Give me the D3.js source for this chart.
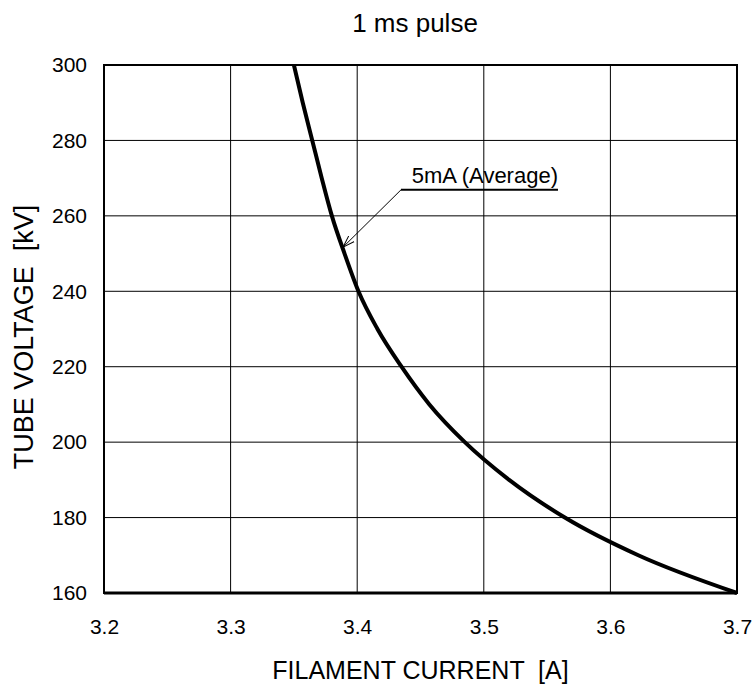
<!DOCTYPE html>
<html>
<head>
<meta charset="utf-8">
<script src="https://cdn.jsdelivr.net/npm/d3@7"></script>
<style>
  body { margin: 0; background: #fff; }
  text { font-family: Arial, "Liberation Sans", sans-serif; fill: #000; }
  .grid line { stroke: #000; stroke-width: 1; }
</style>
</head>
<body>
<svg id="graf"></svg>
<script>
// datos de la curva
const corriente = [3.350, 3.357, 3.3645, 3.372, 3.380, 3.390, 3.401, 3.416, 3.435, 3.457, 3.485, 3.520, 3.564, 3.622, 3.700];
const voltaje   = [300, 290, 280, 270, 260, 250, 240, 230, 220, 210, 200, 190, 180, 170, 160];

const xTicks = [3.2, 3.3, 3.4, 3.5, 3.6, 3.7];
const yTicks = [160, 180, 200, 220, 240, 260, 280, 300];

// anotacion: texto subrayado y flecha hacia la curva
const notaTexto = "5mA (Average)";
const notaInicio = [3.4346, 266.9];   // inicio del subrayado / flecha
const notaFin = [3.5586, 266.9];      // fin del subrayado
const notaPunta = [3.3888, 251.7];    // punta de la flecha

const titulo = "1 ms pulse";
const tituloX = "FILAMENT CURRENT  [A]";
const tituloY = "TUBE VOLTAGE  [kV]";

const ancho = 755, alto = 689;
const margins = { left: 104, top: 65, right: 18, bottom: 96 };
const w = ancho - margins.left - margins.right;
const h = alto - margins.top - margins.bottom;

const svg = d3.select("#graf").attr("width", ancho).attr("height", alto);

const x = d3.scaleLinear().domain([3.2, 3.7]).range([0, w]);
const y = d3.scaleLinear().domain([160, 300]).range([h, 0]);

const g = svg.append("g").attr("transform", `translate(${margins.left}, ${margins.top})`);

// rejilla
const grid = g.append("g").attr("class", "grid");
grid.selectAll(".vx").data(xTicks.slice(1, -1)).enter().append("line")
  .attr("x1", d => x(d)).attr("x2", d => x(d)).attr("y1", 0).attr("y2", h);
grid.selectAll(".hy").data(yTicks.slice(1, -1)).enter().append("line")
  .attr("x1", 0).attr("x2", w).attr("y1", d => y(d)).attr("y2", d => y(d));

// ejes (solo etiquetas)
const xAxis = d3.axisBottom(x).tickValues(xTicks).tickFormat(d3.format(".1f")).tickSize(0).tickPadding(26);
const yAxis = d3.axisLeft(y).tickValues(yTicks).tickSize(0).tickPadding(17);
const gx = g.append("g").attr("transform", `translate(0, ${h})`).call(xAxis);
const gy = g.append("g").call(yAxis);
[gx, gy].forEach(a => {
  a.select(".domain").remove();
  a.selectAll("text").style("font-size", "21px").style("font-family", "Arial, 'Liberation Sans', sans-serif");
});

// marco
g.append("rect").attr("x", 0).attr("y", 0).attr("width", w).attr("height", h)
  .attr("fill", "none").attr("stroke", "#000").attr("stroke-width", 2);
g.append("line").attr("x1", 0).attr("x2", w).attr("y1", y(160)).attr("y2", y(160))
  .attr("stroke", "#000").attr("stroke-width", 3);

// curva
const puntos = corriente.map((c, i) => [c, voltaje[i]]);
const linea = d3.line().x(d => x(d[0])).y(d => y(d[1])).curve(d3.curveMonotoneX);
g.append("path").datum(puntos).attr("d", linea)
  .attr("fill", "none").attr("stroke", "#000").attr("stroke-width", 4).attr("stroke-linejoin", "round");

// flecha abierta
svg.append("defs").append("marker")
  .attr("id", "punta").attr("viewBox", "0 0 12 10").attr("refX", 12).attr("refY", 5)
  .attr("markerWidth", 12).attr("markerHeight", 10).attr("markerUnits", "userSpaceOnUse")
  .attr("orient", "auto")
  .append("path").attr("d", "M0,1 L12,5 L0,9").attr("fill", "none").attr("stroke", "#000").attr("stroke-width", 1);

g.append("line")
  .attr("x1", x(notaInicio[0])).attr("y1", y(notaInicio[1]))
  .attr("x2", x(notaPunta[0])).attr("y2", y(notaPunta[1]))
  .attr("stroke", "#000").attr("stroke-width", 1).attr("marker-end", "url(#punta)");
g.append("line")
  .attr("x1", x(notaInicio[0])).attr("y1", y(notaInicio[1]))
  .attr("x2", x(notaFin[0])).attr("y2", y(notaFin[1]))
  .attr("stroke", "#000").attr("stroke-width", 2);
g.append("text")
  .attr("x", x(notaFin[0])).attr("y", y(notaFin[1]) - 7)
  .attr("text-anchor", "end").style("font-size", "22px")
  .text(notaTexto);

// titulos
svg.append("text").attr("x", 415).attr("y", 32)
  .attr("text-anchor", "middle").style("font-size", "26px").text(titulo);
svg.append("text").attr("x", margins.left + w / 2).attr("y", 679)
  .attr("text-anchor", "middle").style("font-size", "25px").style("white-space", "pre").text(tituloX);
svg.append("g").attr("transform", `translate(33, ${margins.top + h / 2 + 8})`)
  .append("text").attr("transform", "rotate(-90)")
  .attr("text-anchor", "middle").style("font-size", "27px").style("white-space", "pre").text(tituloY);
</script>
</body>
</html>
